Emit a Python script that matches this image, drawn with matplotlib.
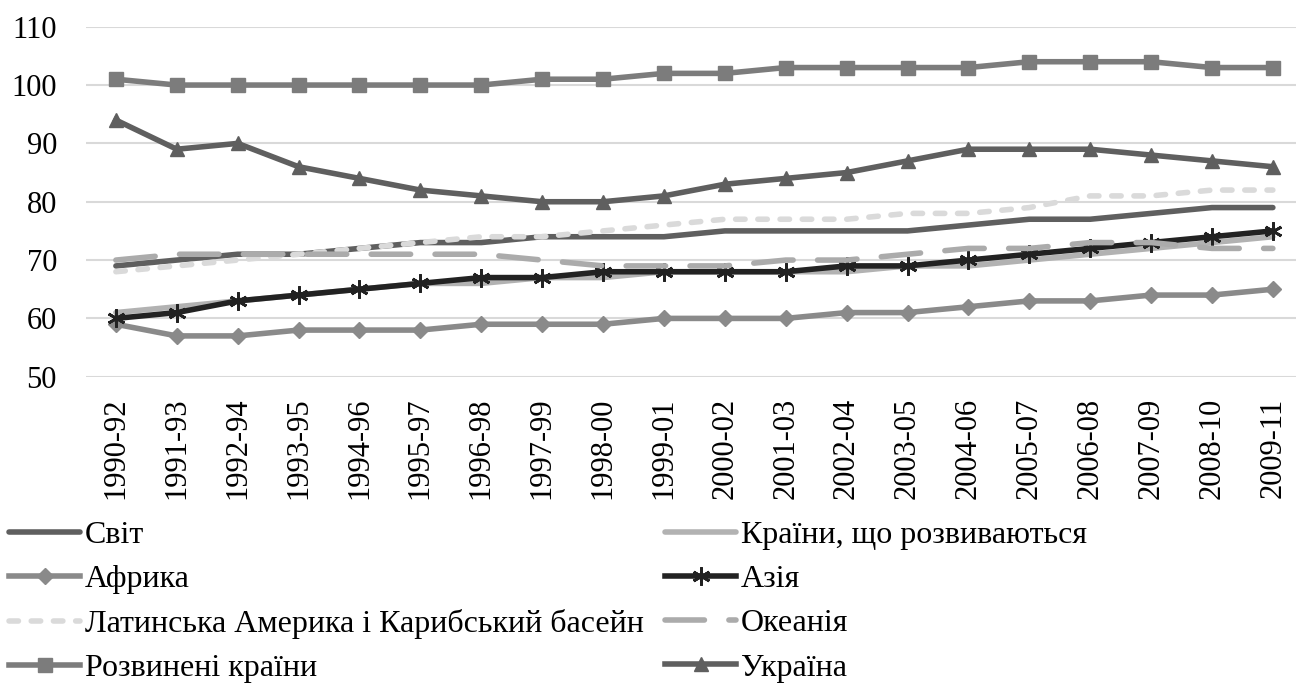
import numpy as np
import matplotlib
matplotlib.use('Agg')
import matplotlib.pyplot as plt

# Police type Times New Roman
plt.rcParams['font.family'] = ['Liberation Serif', 'DejaVu Serif']

# Périodes (axe x)
periodes = ['1990-92', '1991-93', '1992-94', '1993-95', '1994-96', '1995-97',
            '1996-98', '1997-99', '1998-00', '1999-01', '2000-02', '2001-03',
            '2002-04', '2003-05', '2004-06', '2005-07', '2006-08', '2007-09',
            '2008-10', '2009-11']

# Séries
svit = [69, 70, 71, 71, 72, 73, 73, 74, 74, 74, 75, 75, 75, 75, 76, 77, 77, 78, 79, 79]
rozvyvayutsya = [61, 62, 63, 64, 65, 66, 66, 67, 67, 68, 68, 68, 68, 69, 69, 70, 71, 72, 73, 74]
afryka = [59, 57, 57, 58, 58, 58, 59, 59, 59, 60, 60, 60, 61, 61, 62, 63, 63, 64, 64, 65]
aziya = [60, 61, 63, 64, 65, 66, 67, 67, 68, 68, 68, 68, 69, 69, 70, 71, 72, 73, 74, 75]
lat_amer = [68, 69, 70, 71, 72, 73, 74, 74, 75, 76, 77, 77, 77, 78, 78, 79, 81, 81, 82, 82]
okeaniya = [70, 71, 71, 71, 71, 71, 71, 70, 69, 69, 69, 70, 70, 71, 72, 72, 73, 73, 72, 72]
rozvyneni = [101, 100, 100, 100, 100, 100, 100, 101, 101, 102, 102, 103, 103, 103, 103, 104, 104, 104, 103, 103]
ukraina = [94, 89, 90, 86, 84, 82, 81, 80, 80, 81, 83, 84, 85, 87, 89, 89, 89, 88, 87, 86]

x = np.arange(len(periodes))
lw = 4

fig = plt.figure(figsize=(12.96, 6.85), dpi=100)
ax = fig.add_axes([0.0664, 0.450, 0.9336, 0.511])

l1, = ax.plot(x, svit, color='#5f5f5f', lw=lw, solid_capstyle='round', label='Світ')
l2, = ax.plot(x, rozvyvayutsya, color='#b2b2b2', lw=lw, solid_capstyle='round',
              label='Країни, що розвиваються')
l3, = ax.plot(x, afryka, color='#8a8a8a', lw=lw, marker='D', ms=8, label='Африка')
l4, = ax.plot(x, aziya, color='#222222', lw=lw, marker=(6, 2, 0), ms=13, mew=2,
              label='Азія')
l5, = ax.plot(x, lat_amer, color='#dadada', lw=lw, dashes=(1.7, 2.3),
              dash_capstyle='round', label='Латинська Америка і Карибський басейн')
l6, = ax.plot(x, okeaniya, color='#ababab', lw=lw, dashes=(7.1, 4.4),
              dash_capstyle='round', label='Океанія')
l7, = ax.plot(x, rozvyneni, color='#7c7c7c', lw=lw, marker='s', ms=10, label='Розвинені країни')
l8, = ax.plot(x, ukraina, color='#5f5f5f', lw=lw, marker='^', ms=10, label='Україна')

# Axes
ax.set_xlim(-0.49, 19.38)
ax.set_ylim(50, 110)
ax.set_yticks(np.arange(50, 111, 10))
ax.set_xticks(x)
ax.set_xticklabels(periodes, rotation=90)
ax.tick_params(axis='both', labelsize=22, length=0)
ax.tick_params(axis='y', pad=21)
ax.tick_params(axis='x', pad=15)
ax.grid(axis='y', color='#d9d9d9', lw=1.5)
ax.set_axisbelow(True)
for s in ax.spines.values():
    s.set_visible(False)

# Légende (ordre colonne par colonne)
handles = [l1, l3, l5, l7, l2, l4, l6, l8]
fig.legend(handles=handles, labels=[h.get_label() for h in handles], ncol=2,
           loc='upper left', bbox_to_anchor=(0.007, 0.2394), frameon=False,
           fontsize=23, handlelength=2.22, handletextpad=0.16,
           columnspacing=0.66, labelspacing=0.46, borderaxespad=0, borderpad=0)

fig.savefig('out.png', dpi=100)
